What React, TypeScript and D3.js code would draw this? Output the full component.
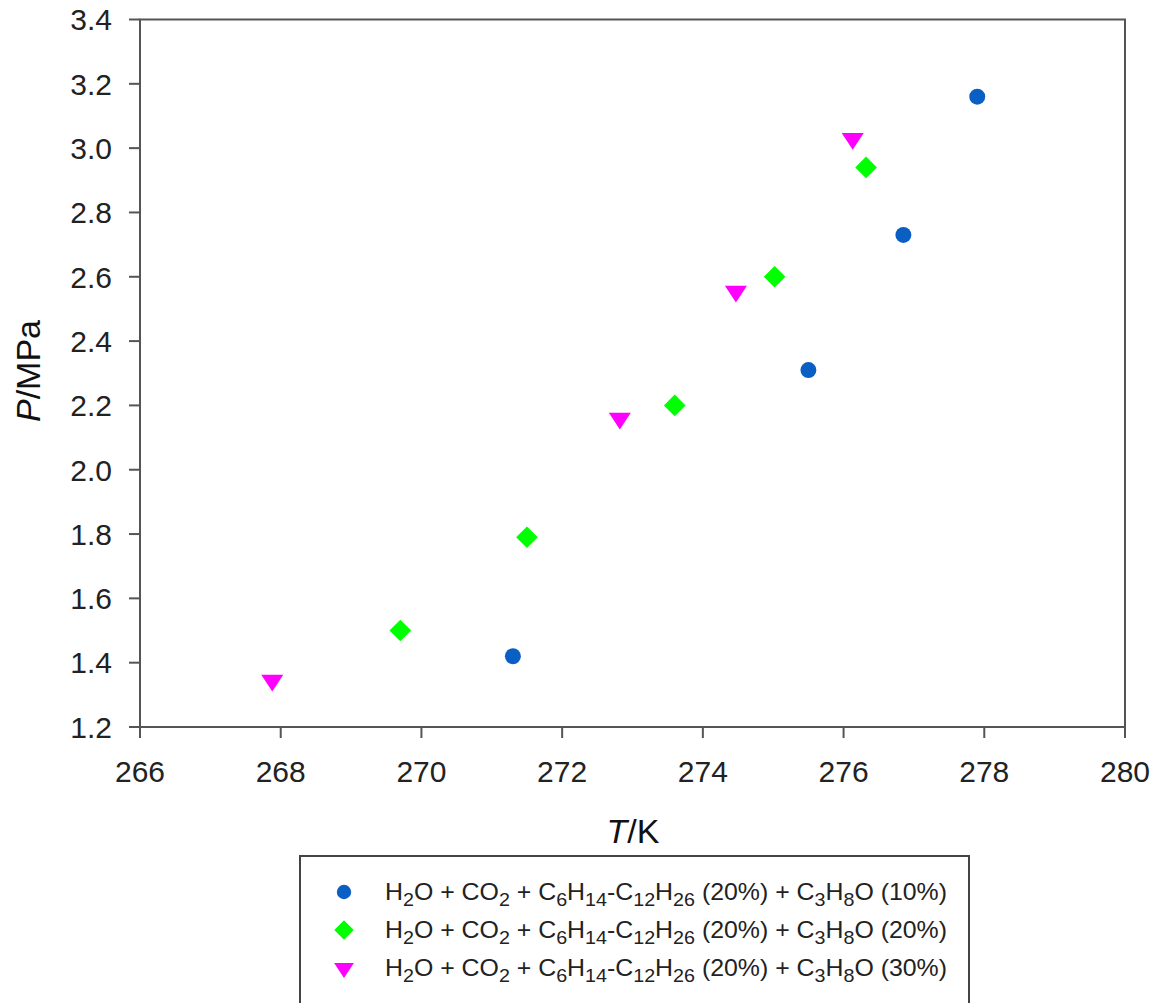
import { useMemo } from 'react';
import * as d3 from 'd3';

// temperature (K) and pressure (MPa), one pair of arrays per series
const tempA = [271.3, 275.5, 276.85, 277.9];
const presA = [1.42, 2.31, 2.73, 3.16];
const tempB = [269.7, 271.5, 273.6, 275.02, 276.32];
const presB = [1.5, 1.79, 2.2, 2.6, 2.94];
const tempC = [267.88, 272.82, 274.47, 276.13];
const presC = [1.345, 2.16, 2.555, 3.03];

const pctLabels = ['10%', '20%', '30%'];
const seriesColors = ['#0a5fc4', '#00ff00', '#ff00ff'];
const seriesShapes = ['circle', 'diamond', 'triangle'];

const xTicks = [266, 268, 270, 272, 274, 276, 278, 280];
const yTicks = [1.2, 1.4, 1.6, 1.8, 2.0, 2.2, 2.4, 2.6, 2.8, 3.0, 3.2, 3.4];

const font = '"Liberation Sans", Arial, sans-serif';

function marker(shape, scale = 1) {
  if (shape === 'circle') return d3.symbol(d3.symbolCircle, 200 * scale * scale)();
  if (shape === 'diamond') return d3.symbol(d3.symbolSquare, 235 * scale * scale)();
  // downward triangle
  return d3.symbol(d3.symbolTriangle, 180 * scale * scale)();
}

function markerTransform(shape, x, y) {
  if (shape === 'diamond') return `translate(${x},${y}) rotate(45)`;
  if (shape === 'triangle') return `translate(${x},${y}) rotate(180) scale(1.08,0.95)`;
  return `translate(${x},${y})`;
}

// one legend line with chemical subscripts
function LegendText({ x, y, pct }) {
  const fs = 19;
  return (
    <text x={x} y={y} fontSize={24} fill="#222" fontFamily={font} textLength={562} lengthAdjust="spacingAndGlyphs">
      H<tspan dy={6} fontSize={fs}>2</tspan><tspan dy={-6}>O + CO</tspan>
      <tspan dy={6} fontSize={fs}>2</tspan><tspan dy={-6}> + C</tspan>
      <tspan dy={6} fontSize={fs}>6</tspan><tspan dy={-6}>H</tspan>
      <tspan dy={6} fontSize={fs}>14</tspan><tspan dy={-6}>-C</tspan>
      <tspan dy={6} fontSize={fs}>12</tspan><tspan dy={-6}>H</tspan>
      <tspan dy={6} fontSize={fs}>26</tspan><tspan dy={-6}> (20%) + C</tspan>
      <tspan dy={6} fontSize={fs}>3</tspan><tspan dy={-6}>H</tspan>
      <tspan dy={6} fontSize={fs}>8</tspan><tspan dy={-6}>{`O (${pct})`}</tspan>
    </text>
  );
}

export default function App() {
  const width = 1156;
  const height = 1003;
  const marginLeft = 140;
  const marginRight = 31;
  const marginTop = 19.5;
  const plotBottom = 727;

  const x = d3.scaleLinear().domain([266, 280]).range([marginLeft, width - marginRight]);
  const y = d3.scaleLinear().domain([1.2, 3.4]).range([plotBottom, marginTop]);

  const series = useMemo(() => [
    d3.zip(tempA, presA),
    d3.zip(tempB, presB),
    d3.zip(tempC, presC),
  ], []);

  const axisColor = '#555';
  const tick = 11;
  const fmt = d3.format('.1f');

  return (
    <svg width={width} height={height} style={{ position: 'absolute', left: 0, top: 0 }}>
      <rect x={0} y={0} width={width} height={height} fill="white" />

      {/* frame */}
      <rect x={x(266)} y={y(3.4)} width={x(280) - x(266)} height={y(1.2) - y(3.4)}
        fill="none" stroke={axisColor} strokeWidth={2} />

      {/* y ticks */}
      {yTicks.map(t => (
        <g key={'y' + t}>
          <line x1={x(266) - tick} x2={x(266)} y1={y(t)} y2={y(t)} stroke={axisColor} strokeWidth={2} />
          <text x={x(266) - 28} y={y(t)} dy="0.36em" textAnchor="end" fontSize={30}
            fontFamily={font} fill="#222">{fmt(t)}</text>
        </g>
      ))}

      {/* x ticks */}
      {xTicks.map(t => (
        <g key={'x' + t}>
          <line x1={x(t)} x2={x(t)} y1={y(1.2)} y2={y(1.2) + tick} stroke={axisColor} strokeWidth={2} />
          <text x={x(t)} y={782} textAnchor="middle" fontSize={30} fontFamily={font} fill="#222">{t}</text>
        </g>
      ))}

      {/* axis titles */}
      <text x={633} y={843} textAnchor="middle" fontSize={34} fontFamily={font} fill="#111">
        <tspan fontStyle="italic">T</tspan>/K
      </text>
      <text transform="translate(40,371) rotate(-90)" textAnchor="middle" fontSize={34} fontFamily={font} fill="#111">
        <tspan fontStyle="italic">P</tspan>/MPa
      </text>

      {/* points */}
      {series.map((s, i) => (
        <g key={'s' + i} fill={seriesColors[i]}>
          {s.map(([t, p], j) => (
            <path key={j} d={marker(seriesShapes[i])}
              transform={markerTransform(seriesShapes[i], x(t), y(p))} />
          ))}
        </g>
      ))}

      {/* legend */}
      <rect x={300} y={856} width={669} height={170} fill="white" stroke="#444" strokeWidth={2} />
      {pctLabels.map((pct, i) => {
        const ly = 892 + i * 38;
        return (
          <g key={'l' + i}>
            <path d={marker(seriesShapes[i], 0.9)} fill={seriesColors[i]}
              transform={markerTransform(seriesShapes[i], 344, ly)} />
            <LegendText x={385} y={ly + 8} pct={pct} />
          </g>
        );
      })}
    </svg>
  );
}
